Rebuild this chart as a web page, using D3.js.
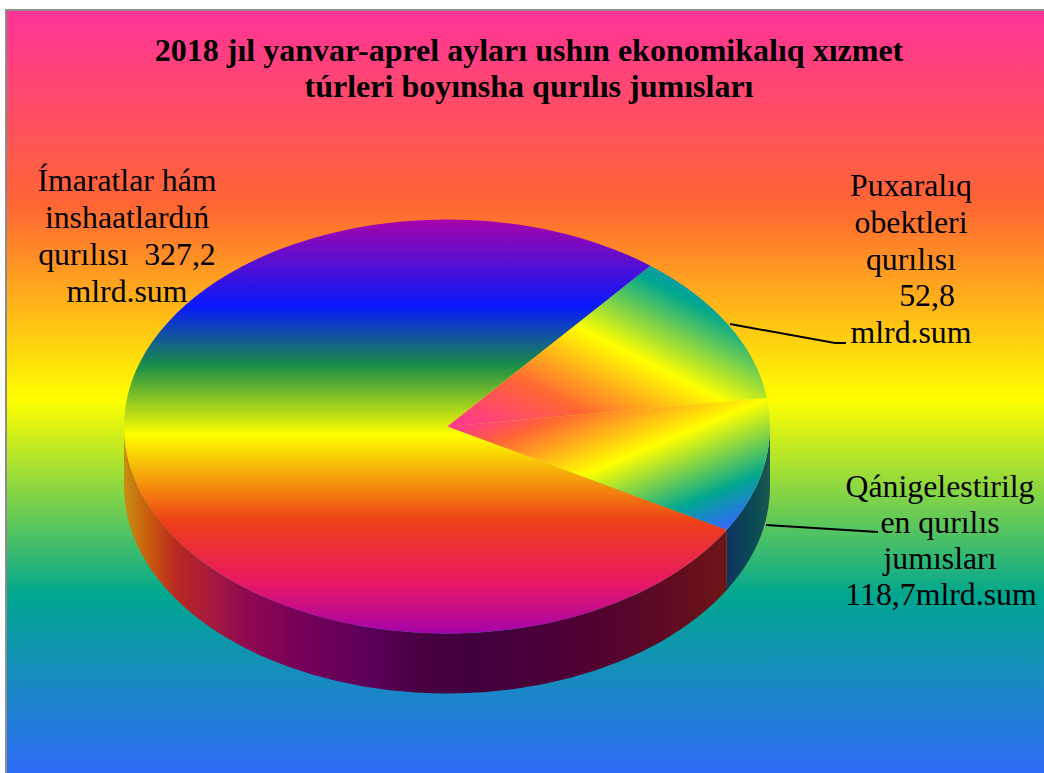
<!DOCTYPE html>
<html>
<head>
<meta charset="utf-8">
<script src="https://cdn.jsdelivr.net/npm/d3@7"></script>
<style>
    html, body { margin: 0; padding: 0; background: #fff; overflow: hidden; }
    text { font-family: "Liberation Serif", "Times New Roman", serif; fill: #000; }
</style>
</head>
<body>
<div id="chart"></div>
<script>
const titleLines = [
    "2018 jıl yanvar-aprel ayları ushın ekonomikalıq xızmet",
    "túrleri boyınsha qurılıs jumısları"
];

// order is clockwise from the upper right slice
const categories = ["Puxaralıq obektleri qurılısı", "Qánigelestirilgen qurılıs jumısları", "Ímaratlar hám inshaatlardıń qurılısı"];
const printedValues = [52.8, 118.7, 327.2];
// the wedges in the picture do not follow the printed numbers, so these are the drawn sweeps in degrees
const drawnSweeps = [43.1, 37.9, 279];

const labelLines1 = ["Puxaralıq", "obektleri", "qurılısı", "52,8", "mlrd.sum"];
const labelLines2 = ["Qánigelestirilg", "en qurılıs", "jumısları", "118,7mlrd.sum"];
const labelLines3 = ["Ímaratlar hám", "inshaatlardıń", "qurılısı  327,2", "mlrd.sum"];

const width = 1044, height = 773;
const cx = 447, cy = 426.5, rx = 323, ry = 207, depth = 60;

const backStops = [[0, "#ff3399"], [.25, "#ff6633"], [.5, "#ffff00"], [.75, "#01a78f"], [1, "#3366ff"]];
const lowerStops = [[0, "#ff3399"], [.17, "#ff6633"], [.48, "#ffff00"], [.81, "#01a78f"], [1, "#3366ff"]];
const faceStops = [[0, "#a603ab"], [.21, "#0819fb"], [.352, "#1a8d48"], [.52, "#ffff00"], [.73, "#ee3f17"], [.88, "#e81766"], [1, "#a603ab"]];
const wallStops = [[0, "#c89010"], [.05, "#c85010"], [.085, "#b82a20"], [.14, "#a81a3c"], [.2, "#900a50"], [.285, "#780058"], [.405, "#5c005a"], [.5, "#46003f"], [.585, "#42003f"], [.75, "#4f0035"], [.895, "#5e0a22"], [1, "#6e1616"]];
const sideStops = [[0, "#0e3560"], [.6, "#0a4a55"], [1, "#1a5a50"]];

const svg = d3.select("#chart").append("svg")
    .attr("width", width)
    .attr("height", height)
    .style("display", "block");

const defs = svg.append("defs");

const addGradient = (id, stops, x1, y1, x2, y2) => {
    const g = defs.append("linearGradient")
        .attr("id", id)
        .attr("gradientUnits", "userSpaceOnUse")
        .attr("x1", x1).attr("y1", y1)
        .attr("x2", x2).attr("y2", y2);
    g.selectAll("stop")
        .data(stops)
        .enter()
        .append("stop")
        .attr("offset", d => d[0])
        .attr("stop-color", d => d[1]);
};

addGradient("back", backStops, 0, 11, 0, 789);
addGradient("face0", backStops, cx, cy, 580, 163);
addGradient("face1", lowerStops, cx, cy, 524, 613);
addGradient("face2", faceStops, 0, cy - ry, 0, cy + ry);
addGradient("wall1", sideStops, 728, 0, 770, 0);
addGradient("wall2", wallStops, cx - rx, 0, 728, 0);

// background and the grey edge of the frame
svg.append("rect")
    .attr("x", 5).attr("y", 9)
    .attr("width", width).attr("height", height)
    .attr("fill", "#8c8c8c");
svg.append("rect")
    .attr("x", 7).attr("y", 11)
    .attr("width", width).attr("height", height)
    .attr("fill", "url(#back)");

const pie = d3.pie()
    .sort(null)
    .startAngle(39 * Math.PI / 180)
    .endAngle(399 * Math.PI / 180);
const slices = pie(drawnSweeps);

const px = a => cx + rx * Math.sin(a);
const py = a => cy - ry * Math.cos(a);

const facePath = d => {
    const large = d.endAngle - d.startAngle > Math.PI ? 1 : 0;
    return "M" + cx + "," + cy +
        "L" + px(d.startAngle) + "," + py(d.startAngle) +
        "A" + rx + "," + ry + " 0 " + large + " 1 " + px(d.endAngle) + "," + py(d.endAngle) + "Z";
};

// only the front half of the rim shows
const wallPath = d => {
    const a0 = Math.max(d.startAngle, Math.PI / 2);
    const a1 = Math.min(d.endAngle, Math.PI * 1.5);
    if (a1 <= a0) return null;
    return "M" + px(a0) + "," + py(a0) +
        "A" + rx + "," + ry + " 0 0 1 " + px(a1) + "," + py(a1) +
        "L" + px(a1) + "," + (py(a1) + depth) +
        "A" + rx + "," + ry + " 0 0 0 " + px(a0) + "," + (py(a0) + depth) + "Z";
};

svg.selectAll("path.wall")
    .data(slices.filter(wallPath))
    .enter()
    .append("path")
    .attr("class", "wall")
    .attr("d", wallPath)
    .attr("fill", d => "url(#wall" + d.index + ")");

svg.selectAll("path.face")
    .data(slices)
    .enter()
    .append("path")
    .attr("class", "face")
    .attr("d", facePath)
    .attr("fill", d => "url(#face" + d.index + ")");

// leader lines
const leaderLine = d3.line();
const leaders = [
    [[730, 324], [835, 343], [846, 343]],
    [[766, 525], [878, 532]]
];
svg.selectAll("path.leader")
    .data(leaders)
    .enter()
    .append("path")
    .attr("class", "leader")
    .attr("d", leaderLine)
    .attr("fill", "none")
    .attr("stroke", "#000")
    .attr("stroke-width", 2);

// title
svg.selectAll("text.title")
    .data(titleLines)
    .enter()
    .append("text")
    .attr("class", "title")
    .attr("x", 529)
    .attr("y", (_, i) => 60.5 + i * 36)
    .attr("text-anchor", "middle")
    .style("font-size", "32px")
    .style("font-weight", "bold")
    .text(d => d);

const addLabel = (lines, xs, firstY, step) => {
    svg.append("g").selectAll("text")
        .data(lines)
        .enter()
        .append("text")
        .attr("x", (_, i) => xs[i])
        .attr("y", (_, i) => firstY + i * step)
        .attr("text-anchor", "middle")
        .attr("xml:space", "preserve")
        .style("white-space", "pre")
        .style("font-size", "31.8px")
        .text(d => d);
};

addLabel(labelLines1, [911, 911, 911, 927, 911], 196, 36.8);
addLabel(labelLines2, [940, 940, 940, 941], 497, 36);
addLabel(labelLines3, [127, 127, 127, 127], 191, 37);
</script>
</body>
</html>
